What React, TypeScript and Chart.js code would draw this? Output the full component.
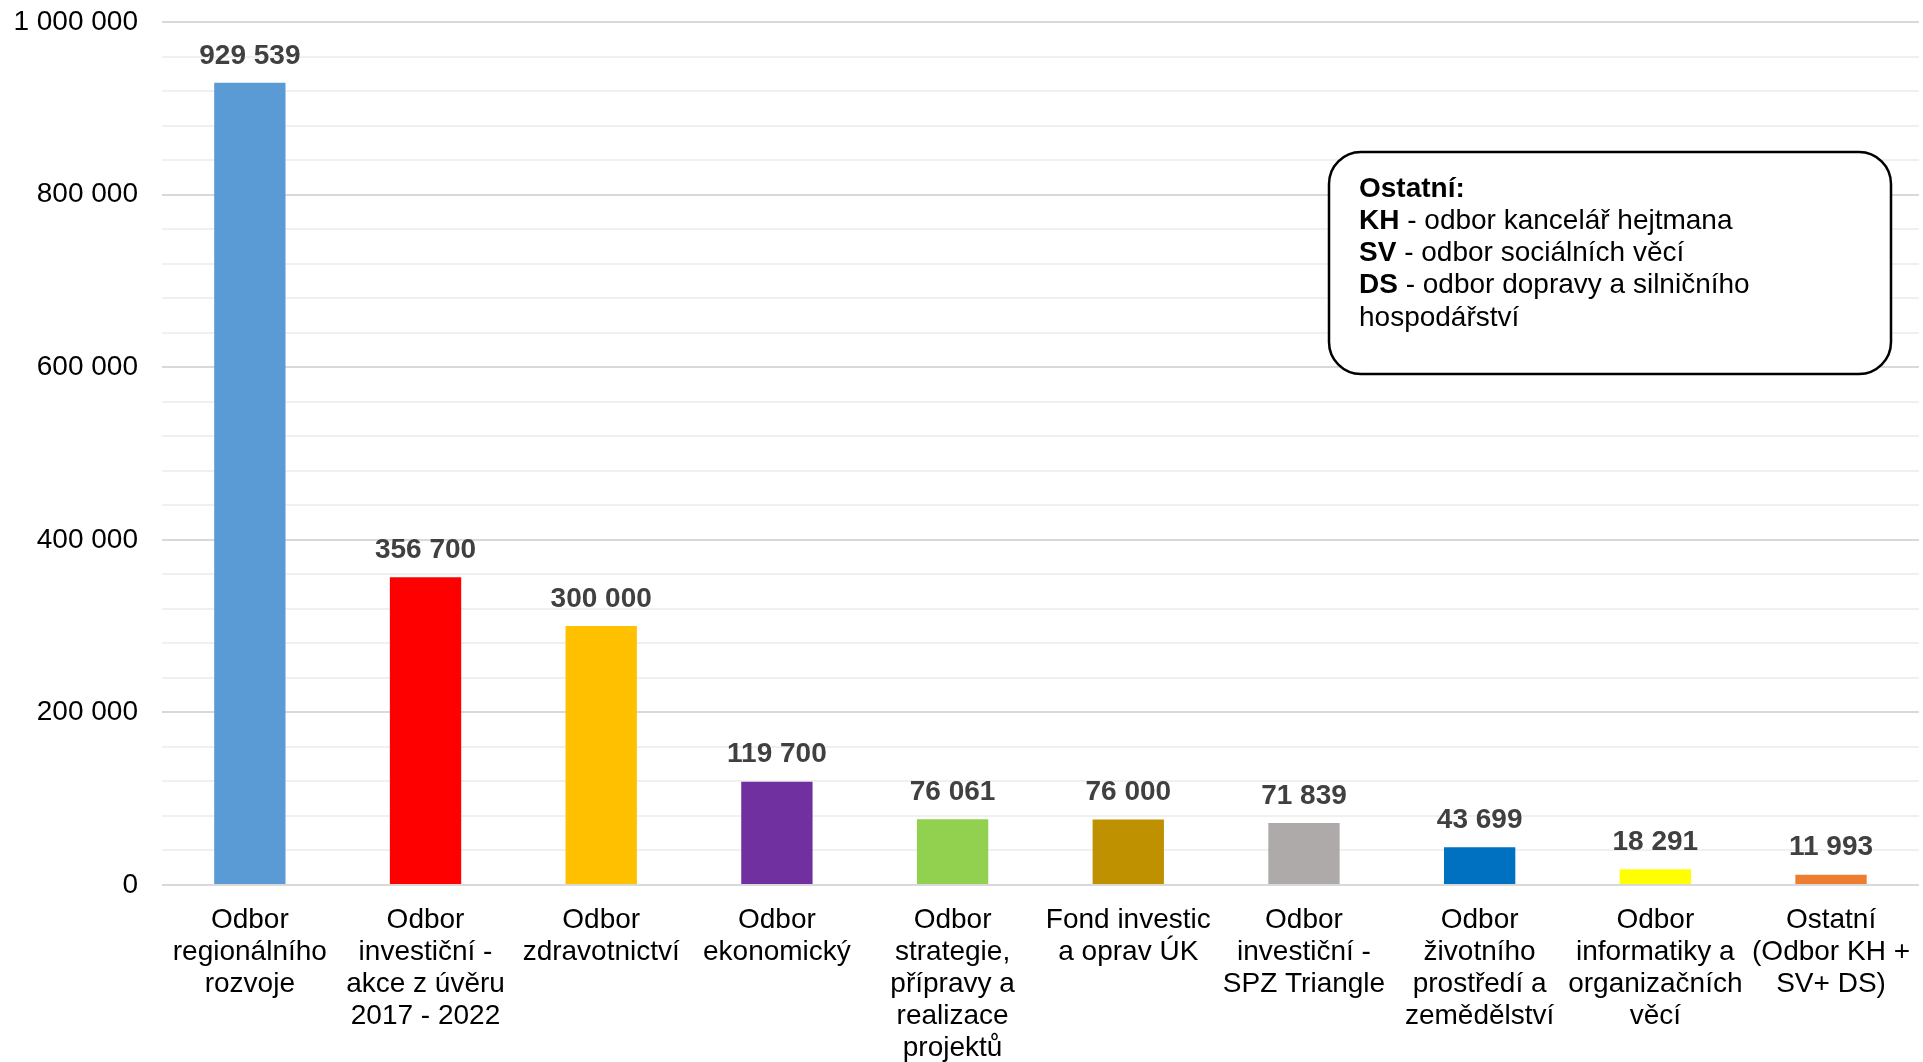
import React, { useEffect, useRef } from "react";
import { Chart, registerables } from "chart.js";

Chart.register(...registerables);

const categories: string[][] = [
  ["Odbor", "regionálního", "rozvoje"],
  ["Odbor", "investiční -", "akce z úvěru", "2017 - 2022"],
  ["Odbor", "zdravotnictví"],
  ["Odbor", "ekonomický"],
  ["Odbor", "strategie,", "přípravy a", "realizace", "projektů"],
  ["Fond investic", "a oprav ÚK"],
  ["Odbor", "investiční -", "SPZ Triangle"],
  ["Odbor", "životního", "prostředí a", "zemědělství"],
  ["Odbor", "informatiky a", "organizačních", "věcí"],
  ["Ostatní", "(Odbor KH +", "SV+ DS)"],
];

const values: number[] = [929539, 356700, 300000, 119700, 76061, 76000, 71839, 43699, 18291, 11993];

const barColors: string[] = [
  "#5B9BD5", "#FF0000", "#FFC000", "#7030A0", "#92D050",
  "#BF9000", "#AEAAAA", "#0070C0", "#FFFF00", "#ED7D31",
];

const noteLines: [string, string][] = [
  ["Ostatní:", ""],
  ["KH", " - odbor kancelář hejtmana"],
  ["SV", " - odbor sociálních věcí"],
  ["DS", " - odbor dopravy a silničního"],
  ["", "hospodářství"],
];

const yMax = 1000000;
const yMinorStep = 40000;
const yMajorStep = 200000;

const FONT = "'Liberation Sans', Arial, sans-serif";
const FS = 28;

const fmt = (n: number) => String(Math.round(n)).replace(/\B(?=(\d{3})+(?!\d))/g, " ");

const dataLabelPlugin = {
  id: "dataLabels",
  afterDatasetsDraw(chart: any) {
    const ctx = chart.ctx;
    const meta = chart.getDatasetMeta(0);
    ctx.save();
    ctx.font = `bold ${FS}px ${FONT}`;
    ctx.fillStyle = "#404040";
    ctx.textAlign = "center";
    ctx.textBaseline = "middle";
    meta.data.forEach((bar: any, i: number) => {
      ctx.fillText(fmt(values[i]), bar.x, bar.y - 27);
    });
    ctx.restore();
  },
};

const notePlugin = {
  id: "noteBox",
  afterDraw(chart: any) {
    const ctx = chart.ctx;
    const x = 1329, y = 152, w = 562, h = 222, r = 32;
    ctx.save();
    ctx.beginPath();
    ctx.moveTo(x + r, y);
    ctx.lineTo(x + w - r, y);
    ctx.arcTo(x + w, y, x + w, y + r, r);
    ctx.lineTo(x + w, y + h - r);
    ctx.arcTo(x + w, y + h, x + w - r, y + h, r);
    ctx.lineTo(x + r, y + h);
    ctx.arcTo(x, y + h, x, y + h - r, r);
    ctx.lineTo(x, y + r);
    ctx.arcTo(x, y, x + r, y, r);
    ctx.closePath();
    ctx.fillStyle = "#FFFFFF";
    ctx.fill();
    ctx.lineWidth = 2.5;
    ctx.strokeStyle = "#000000";
    ctx.stroke();
    ctx.fillStyle = "#000000";
    ctx.textBaseline = "middle";
    ctx.textAlign = "left";
    const tx = 1359;
    noteLines.forEach(([bold, rest], i) => {
      const ty = 189 + i * 32.2;
      let cx = tx;
      if (bold) {
        ctx.font = `bold ${FS}px ${FONT}`;
        ctx.fillText(bold, cx, ty);
        cx += ctx.measureText(bold).width;
      }
      if (rest) {
        ctx.font = `${FS}px ${FONT}`;
        ctx.fillText(rest, cx, ty);
      }
    });
    ctx.restore();
  },
};

export default function App() {
  const ref = useRef<HTMLCanvasElement | null>(null);
  useEffect(() => {
    if (!ref.current) return;
    const chart = new Chart(ref.current, {
      type: "bar",
      data: {
        labels: categories,
        datasets: [
          {
            data: values,
            backgroundColor: barColors,
            borderWidth: 0,
            categoryPercentage: 1,
            barPercentage: 0.406,
          },
        ],
      },
      options: {
        animation: false,
        responsive: false,
        maintainAspectRatio: false,
        devicePixelRatio: 1,
        layout: { padding: { top: 22, right: 0, left: 0, bottom: 0 } },
        plugins: {
          legend: { display: false },
          tooltip: { enabled: false },
          title: { display: false },
        },
        scales: {
          x: {
            grid: { display: false, drawTicks: false },
            border: { display: false },
            ticks: {
              color: "#000000",
              font: { family: FONT, size: FS, lineHeight: 32 / FS },
              padding: 19,
              maxRotation: 0,
              minRotation: 0,
              autoSkip: false,
            },
            afterFit: (scale: any) => {
              scale.height = 177;
            },
          },
          y: {
            min: 0,
            max: yMax,
            grid: {
              drawTicks: false,
              color: (c: any) =>
                c.tick && c.tick.value % yMajorStep === 0 ? "#D9D9D9" : "#F0F0F0",
              lineWidth: 2,
            },
            border: { display: false },
            ticks: {
              stepSize: yMinorStep,
              autoSkip: false,
              color: "#000000",
              font: { family: FONT, size: FS },
              padding: 24,
              callback: (v: any) => (Number(v) % yMajorStep === 0 ? fmt(Number(v)) : ""),
            },
            afterFit: (scale: any) => {
              scale.width = 162;
              scale.paddingTop = 0;
              scale.paddingBottom = 0;
            },
          },
        },
      },
      plugins: [dataLabelPlugin, notePlugin],
    });
    return () => chart.destroy();
  }, []);
  return (
    <div style={{ position: "fixed", left: 0, top: 0, width: 1923, height: 1062, overflow: "hidden", background: "#fff" }}>
      <canvas ref={ref} width={1929} height={1062} style={{ width: 1929, height: 1062, display: "block" }} />
    </div>
  );
}
